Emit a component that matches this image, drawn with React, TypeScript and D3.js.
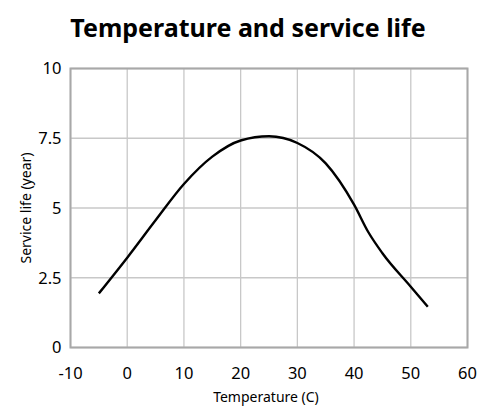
import React from 'react';
import * as d3 from 'd3';

// Temperature (C) vs service life (year)
const temperatures = [-5, 0, 5, 10, 15, 20, 25, 30, 35, 40, 42.5, 45, 50, 53];
const serviceLife = [1.94, 3.22, 4.56, 5.86, 6.84, 7.42, 7.57, 7.33, 6.6, 5.12, 4.14, 3.38, 2.18, 1.46];
const xTicks = [-10, 0, 10, 20, 30, 40, 50, 60];
const yTicks = [0, 2.5, 5, 7.5, 10];

const width = 486;
const height = 411;
const margin = { top: 68.5, right: 18.5, bottom: 63.5, left: 70.5 };
const font = "'Noto Sans', 'Open Sans', sans-serif";

const App: React.FC = () => {
  const innerW = width - margin.left - margin.right;
  const innerH = height - margin.top - margin.bottom;

  const x = d3.scaleLinear().domain([-10, 60]).range([0, innerW]);
  const y = d3.scaleLinear().domain([0, 10]).range([innerH, 0]);

  const points = temperatures.map((t, i) => [t, serviceLife[i]] as [number, number]);
  const line = d3.line<[number, number]>()
    .x(d => x(d[0]))
    .y(d => y(d[1]))
    .curve(d3.curveMonotoneX);

  return (
    <svg
      width={width}
      height={height}
      viewBox={`0 0 ${width} ${height}`}
      style={{ position: 'absolute', left: 0, top: 0, background: '#fff' }}
      fontFamily={font}
    >
      <text x={248} y={37} textAnchor="middle" fontSize={25} fontWeight="bold" fill="#000">
        Temperature and service life
      </text>
      <g transform={`translate(${margin.left},${margin.top})`}>
        {/* grid */}
        {xTicks.map(t => (
          <line key={`gx${t}`} x1={x(t)} x2={x(t)} y1={0} y2={innerH} stroke="#c8c8c8" strokeWidth={1.3} />
        ))}
        {yTicks.map(t => (
          <line key={`gy${t}`} x1={0} x2={innerW} y1={y(t)} y2={y(t)} stroke="#c8c8c8" strokeWidth={1.3} />
        ))}
        {/* frame */}
        <rect x={0} y={0} width={innerW} height={innerH} fill="none" stroke="#a8a8a8" strokeWidth={2} />

        {/* tick labels */}
        {xTicks.map(t => (
          <text key={`tx${t}`} x={x(t)} y={innerH + 31} textAnchor="middle" fontSize={16.5} fill="#000">
            {t}
          </text>
        ))}
        {yTicks.map(t => (
          <text key={`ty${t}`} x={-9} y={y(t)} dy="0.36em" textAnchor="end" fontSize={16.5} fill="#000">
            {t}
          </text>
        ))}

        {/* series */}
        <path d={line(points) ?? ''} fill="none" stroke="#000" strokeWidth={2.4} />

        {/* axis titles */}
        <text x={innerW / 2 - 3} y={innerH + 54} textAnchor="middle" fontSize={14} fill="#000">
          Temperature (C)
        </text>
        <text
          transform={`translate(${-39.5},${innerH / 2}) rotate(-90)`}
          textAnchor="middle"
          fontSize={14}
          fill="#000"
        >
          Service life (year)
        </text>
      </g>
    </svg>
  );
};

export default App;
